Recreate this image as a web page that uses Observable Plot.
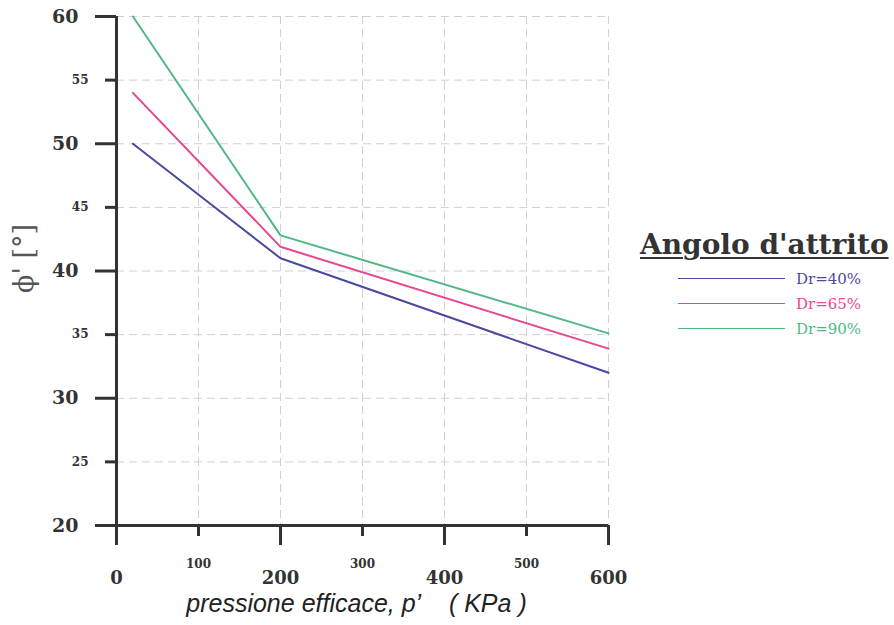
<!DOCTYPE html>
<html>
<head>
<meta charset="utf-8">
<script src="https://cdn.jsdelivr.net/npm/d3@7"></script>
<script src="https://cdn.jsdelivr.net/npm/@observablehq/plot@0.6"></script>
<style>
  html, body { margin: 0; padding: 0; background: #fff; }
  #wrap { position: relative; width: 894px; height: 625px; }
  #legend { position: absolute; left: 640px; top: 229px; font-family: "DejaVu Serif", serif; }
  #legend .title { font-weight: bold; font-size: 28px; line-height: 32px; color: #333; text-decoration: underline; text-decoration-thickness: 2px; text-underline-offset: 3px; white-space: nowrap; }
  #legend .rows { margin-top: 5px; }
  #legend .row { display: flex; align-items: center; height: 25px; margin-left: 38px; font-size: 15px; }
  #legend .sw { width: 107px; height: 0; border-top: 1.5px solid; margin-right: 11px; }
</style>
</head>
<body>
<div id="wrap"><div id="chart"></div><div id="legend"></div></div>
<script>
const pressure = [20, 200, 600];
const dr40 = [50, 41, 32];
const dr65 = [54, 41.9, 33.9];
const dr90 = [60, 42.8, 35.1];
const seriesNames = ["Dr=40%", "Dr=65%", "Dr=90%"];
const seriesColors = ["#4a48a0", "#e8468e", "#4fb886"];
const majorXTicks = [0, 200, 400, 600];
const minorXTicks = [100, 300, 500];
const majorYTicks = [20, 30, 40, 50, 60];
const minorYTicks = [25, 35, 45, 55];
const gridXTicks = [100, 200, 300, 400, 500, 600];
const gridYTicks = [25, 30, 35, 40, 45, 50, 55, 60];
const legendTitle = "Angolo d'attrito";
const xLabel = "pressione efficace, p’\u00a0\u00a0\u00a0\u00a0( KPa )";
const yLabel = "ϕ' [°]";

const series = [dr40, dr65, dr90];
const data = series.flatMap((vals, i) => vals.map((v, j) => ({p: pressure[j], phi: v, s: seriesNames[i]})));

const axisFont = "DejaVu Serif";
const chart = Plot.plot({
  width: 894,
  height: 625,
  marginLeft: 116,
  marginRight: 286,
  marginTop: 16,
  marginBottom: 100,
  style: {background: "#fff", color: "#333", fontFamily: axisFont},
  x: {domain: [0, 600]},
  y: {domain: [20, 60]},
  color: {domain: seriesNames, range: seriesColors},
  marks: [
    Plot.gridX(gridXTicks, {stroke: "#d0d0d0", strokeOpacity: 1, strokeDasharray: "8,5", strokeWidth: 1}),
    Plot.gridY(gridYTicks, {stroke: "#d0d0d0", strokeOpacity: 1, strokeDasharray: "8,5", strokeWidth: 1}),
    Plot.axisX(majorXTicks, {tickSize: 20, tickPadding: 26, fontSize: 18, fontWeight: "bold", strokeWidth: 3, label: null, fill: "#333"}),
    Plot.axisX(minorXTicks, {tickSize: 11, tickPadding: 23, fontSize: 12, fontWeight: "bold", strokeWidth: 3, label: null, fill: "#333"}),
    Plot.axisY(majorYTicks, {tickSize: 21, tickPadding: 17, fontSize: 19, fontWeight: "bold", strokeWidth: 3, label: null, fill: "#333"}),
    Plot.axisY(minorYTicks, {tickSize: 11, tickPadding: 17, fontSize: 12, fontWeight: "bold", strokeWidth: 3, label: null, fill: "#333"}),
    Plot.ruleX([0], {y1: 20, y2: 60, stroke: "#333", strokeWidth: 3}),
    Plot.ruleY([20], {x1: 0, x2: 600, stroke: "#333", strokeWidth: 3}),
    Plot.line(data, {x: "p", y: "phi", stroke: "s", strokeWidth: 2}),
    Plot.text([xLabel], {frameAnchor: "bottom", dy: 86, dx: -6, fontSize: 25, fontStyle: "italic", fontFamily: "Liberation Sans", fill: "#222"}),
    Plot.text([yLabel], {frameAnchor: "left", dx: -92, dy: 22, rotate: -90, fontSize: 27, fill: "#555", fontFamily: "DejaVu Serif"})
  ]
});
document.getElementById("chart").append(chart);

const legend = document.getElementById("legend");
const t = document.createElement("div");
t.className = "title";
t.textContent = legendTitle;
legend.append(t);
const rows = document.createElement("div");
rows.className = "rows";
legend.append(rows);
seriesNames.forEach((n, i) => {
  const row = document.createElement("div");
  row.className = "row";
  const sw = document.createElement("div");
  sw.className = "sw";
  sw.style.borderColor = seriesColors[i];
  const lab = document.createElement("span");
  lab.textContent = n;
  lab.style.color = seriesColors[i];
  row.append(sw, lab);
  rows.append(row);
});
</script>
</body>
</html>
